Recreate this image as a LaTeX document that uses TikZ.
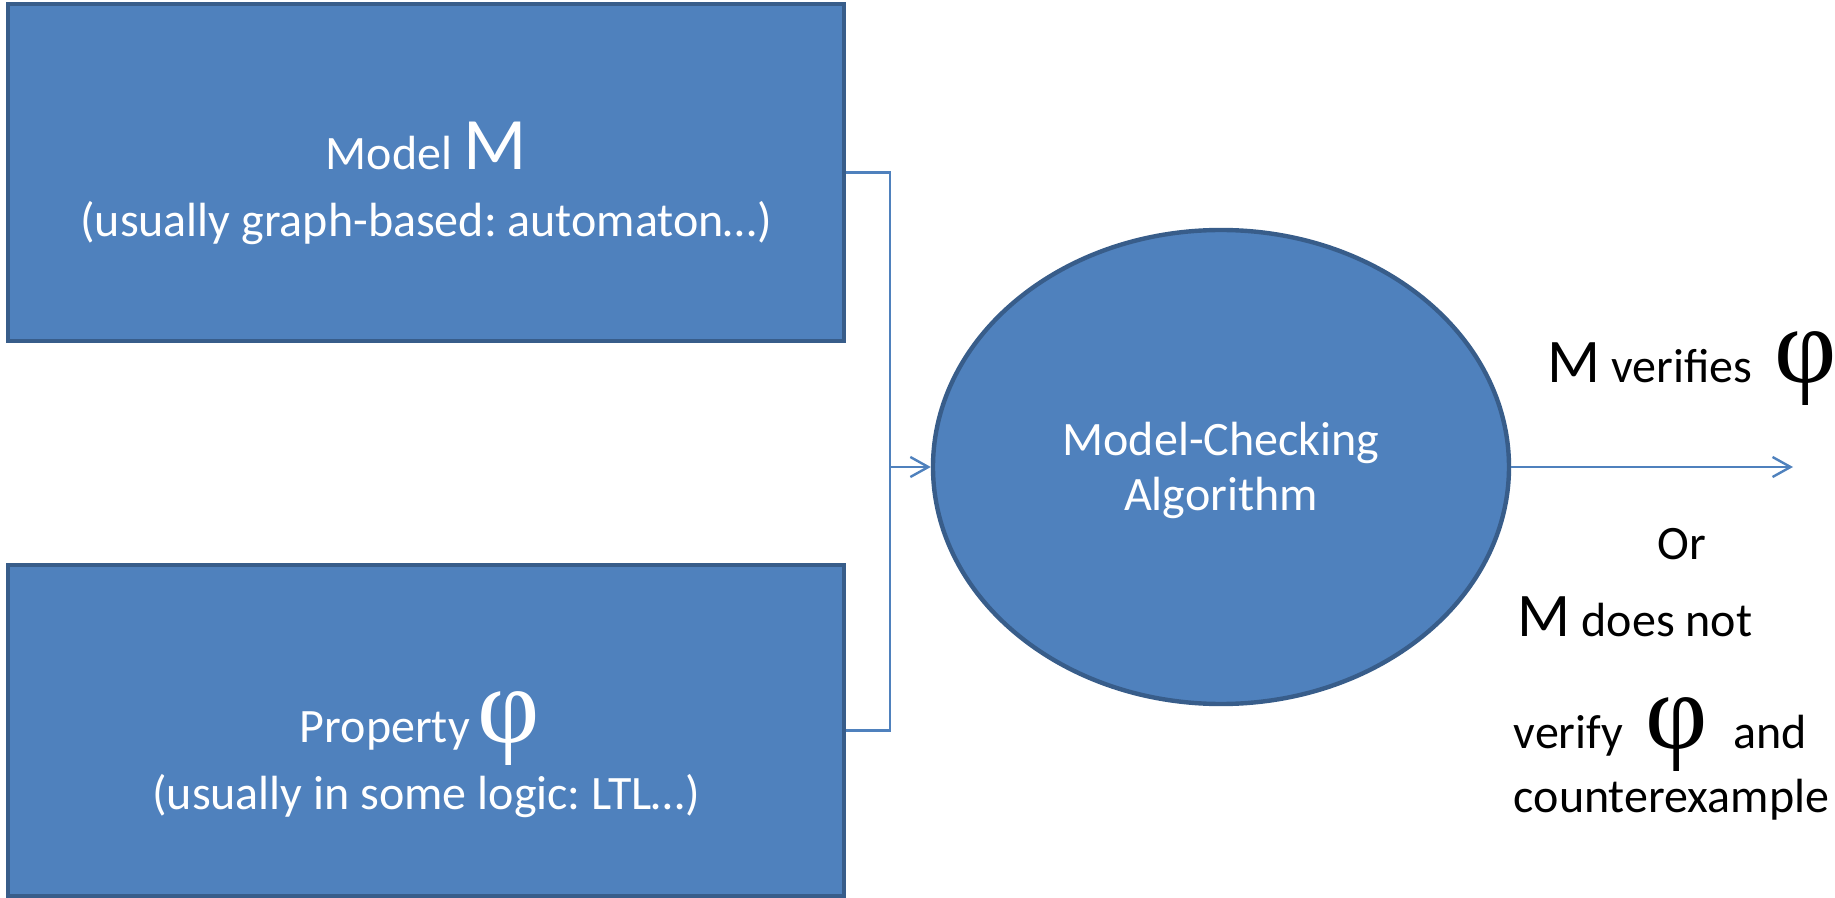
\documentclass[tikz,border=0pt]{standalone}
\usepackage{fontspec}
\setmainfont{Carlito}
\newfontfamily\phifont{Liberation Serif}
\usetikzlibrary{shapes.geometric,arrows.meta}
\definecolor{boxfill}{HTML}{4F81BD}
\definecolor{boxline}{HTML}{385D8A}
\newdimen\pxu \pxu=0.25pt
\frenchspacing
\newcommand\bigM{{\fontsize{18.5}{22}\selectfont M}}
\newcommand\midM{{\fontsize{15.5}{18}\selectfont M}}
\newcommand\bigphi{{\phifont\fontsize{27}{30}\selectfont φ}}
\begin{document}
\begin{tikzpicture}[x=0.25pt,y=-0.25pt,
  blk/.style={draw=boxline, line width=1.1pt, fill=boxfill, inner sep=0pt},
  wire/.style={draw=boxfill, line width=0.6pt},
  tip/.style={-{Straight Barb[length=4.5pt,width=5pt,line width=0.6pt]}},
  lbl/.style={font=\fontsize{12}{14.4}\selectfont, inner sep=0pt},
  wlbl/.style={lbl, text=white}]
\useasboundingbox (0,0) rectangle (1835,898);
% boxes
\node[blk, minimum width=209pt, minimum height=84.25pt] (m) at (426,172.5) {};
\node[blk, minimum width=209pt, minimum height=82.75pt] (p) at (426,730.5) {};
\node[blk, ellipse, minimum width=144pt, minimum height=118.5pt] (mc) at (1221,467) {};
% box texts
\node[wlbl, anchor=base] (m1) at (426,170) {Model \bigM};
\node[wlbl, anchor=base] (m2) at (426,237) {(usually graph-based: automaton…)};
\node[wlbl, anchor=base] (p1) at (420,743) {Property\hspace{8\pxu}\bigphi};
\node[wlbl, anchor=base] (p2) at (426,810) {(usually in some logic: LTL…)};
\node[wlbl, anchor=base] (c1) at (1221,456) {Model-Checking};
\node[wlbl, anchor=base] (c2) at (1221,511) {Algorithm};
% connectors
\coordinate (jm) at (890,467);
\coordinate (out) at (1793,467);
\draw[wire] (m.east) -| (jm) |- (p.east);
\draw[wire, tip] (jm) -- (mc.west);
\draw[wire, tip] (mc.east) -- (out);
% result texts
\node[lbl, anchor=base west] (r1) at (1547,383) {\midM{} verifies\hspace{22\pxu}\bigphi};
\node[lbl, anchor=base west] (r2) at (1657,560) {Or};
\node[lbl, anchor=base west] (r3) at (1517,637) {\midM{} does not};
\node[lbl, anchor=base west] (r4) at (1513,748) {verify\hspace{22\pxu}\bigphi\hspace{26\pxu}and};
\node[lbl, anchor=base west] (r5) at (1513,813) {counterexample};
\end{tikzpicture}
\end{document}
